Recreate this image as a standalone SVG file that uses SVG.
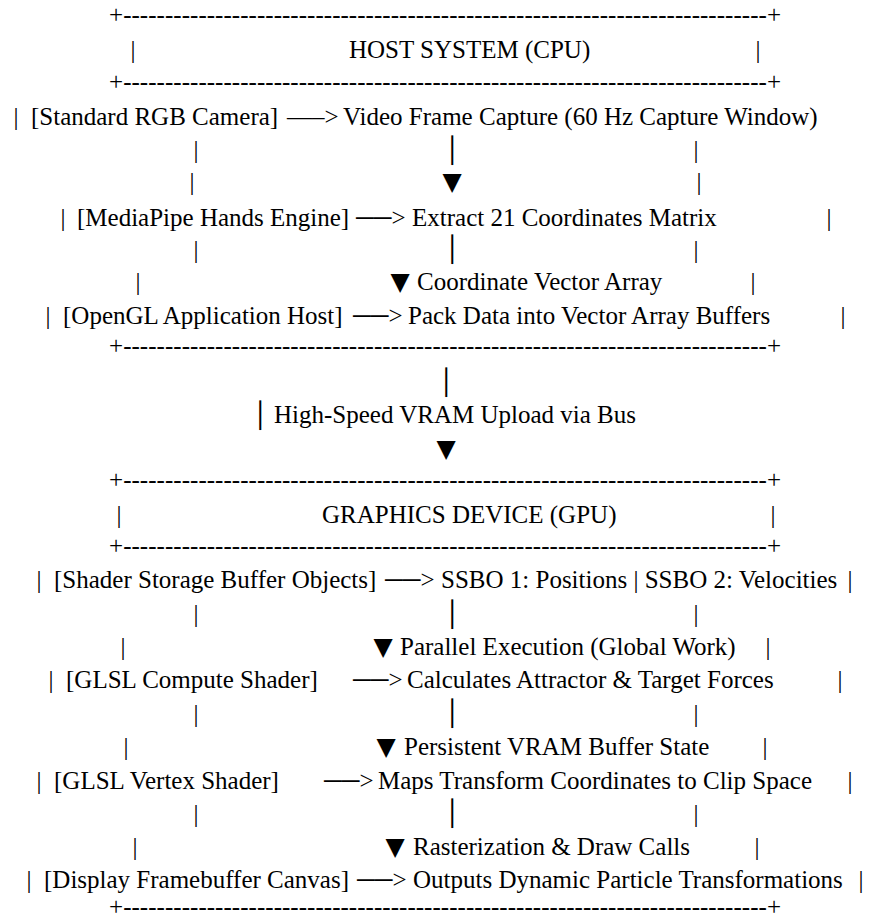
<svg xmlns="http://www.w3.org/2000/svg" width="873" height="920" viewBox="0 0 873 920">
<style>
.t{font-family:"Liberation Serif","Times New Roman","DejaVu Serif",serif;font-size:25px;fill:#000}
.m{text-anchor:middle}
.s{font-family:"DejaVu Sans",sans-serif;font-size:25px;fill:#000}
</style>
<rect width="873" height="920" fill="#fff"/>
<g opacity="0.999">
<g id="host-header">
<text class="t" x="109" y="23" textLength="672">+-----------------------------------------------------------------------------+</text>
<text class="t m" x="133" y="58">|</text>
<text class="t" x="349" y="58">HOST SYSTEM (CPU)</text>
<text class="t m" x="758" y="58">|</text>
<text class="t" x="109" y="90" textLength="672">+-----------------------------------------------------------------------------+</text>
</g>
<g id="camera">
<text class="t m" x="16" y="125">|</text>
<text class="t" x="31" y="125">[Standard RGB Camera]</text>
<text class="t" x="343" y="125">Video Frame Capture (60 Hz Capture Window)</text>
</g>
<g id="rails-1">
<text class="t m" x="196" y="158">|</text><text class="t m" x="696" y="158">|</text>
<text class="t m" x="192" y="190">|</text><text class="t m" x="699" y="190">|</text>
</g>
<g id="mediapipe">
<text class="t m" x="63" y="226">|</text>
<text class="t" x="77" y="226">[MediaPipe Hands Engine]</text>
<text class="t" x="412" y="226">Extract 21 Coordinates Matrix</text>
<text class="t m" x="829" y="226">|</text>
</g>
<g id="rails-2">
<text class="t m" x="196" y="258">|</text><text class="t m" x="696" y="258">|</text>
<text class="t m" x="138" y="290">|</text>
<text class="t" x="417" y="290">Coordinate Vector Array</text>
<text class="t m" x="753" y="290">|</text>
</g>
<g id="opengl">
<text class="t m" x="48" y="324">|</text>
<text class="t" x="63" y="324">[OpenGL Application Host]</text>
<text class="t" x="408" y="324">Pack Data into Vector Array Buffers</text>
<text class="t m" x="843" y="324">|</text>
<text class="t" x="109" y="354" textLength="672">+-----------------------------------------------------------------------------+</text>
</g>
<g id="bus-label">
<text class="t" x="274" y="423">High-Speed VRAM Upload via Bus</text>
</g>
<g id="gpu-header">
<text class="t" x="109" y="488" textLength="672">+-----------------------------------------------------------------------------+</text>
<text class="t m" x="119" y="523">|</text>
<text class="t" x="322" y="523">GRAPHICS DEVICE (GPU)</text>
<text class="t m" x="773" y="523">|</text>
<text class="t" x="109" y="554" textLength="672">+-----------------------------------------------------------------------------+</text>
</g>
<g id="ssbo">
<text class="t m" x="39" y="588">|</text>
<text class="t" x="54" y="588">[Shader Storage Buffer Objects]</text>
<text class="t" x="441" y="588">SSBO 1: Positions | SSBO 2: Velocities</text>
<text class="t m" x="850" y="588">|</text>
</g>
<g id="rails-3">
<text class="t m" x="196" y="622">|</text><text class="t m" x="696" y="622">|</text>
<text class="t m" x="123" y="655">|</text>
<text class="t" x="400" y="655">Parallel Execution (Global Work)</text>
<text class="t m" x="768" y="655">|</text>
</g>
<g id="compute">
<text class="t m" x="51" y="688">|</text>
<text class="t" x="66" y="688">[GLSL Compute Shader]</text>
<text class="t" x="407" y="688">Calculates Attractor &amp; Target Forces</text>
<text class="t m" x="840" y="688">|</text>
</g>
<g id="rails-4">
<text class="t m" x="196" y="722">|</text><text class="t m" x="696" y="722">|</text>
<text class="t m" x="126" y="755">|</text>
<text class="t" x="404" y="755">Persistent VRAM Buffer State</text>
<text class="t m" x="765" y="755">|</text>
</g>
<g id="vertex">
<text class="t m" x="39" y="789">|</text>
<text class="t" x="54" y="789">[GLSL Vertex Shader]</text>
<text class="t" x="378" y="789">Maps Transform Coordinates to Clip Space</text>
<text class="t m" x="850" y="789">|</text>
</g>
<g id="rails-5">
<text class="t m" x="196" y="822">|</text><text class="t m" x="696" y="822">|</text>
<text class="t m" x="135" y="855">|</text>
<text class="t" x="413" y="855">Rasterization &amp; Draw Calls</text>
<text class="t m" x="757" y="855">|</text>
</g>
<g id="display">
<text class="t m" x="29" y="888">|</text>
<text class="t" x="44" y="888">[Display Framebuffer Canvas]</text>
<text class="t" x="413" y="888">Outputs Dynamic Particle Transformations</text>
<text class="t m" x="861" y="888">|</text>
<text class="t" x="109" y="915" textLength="672">+-----------------------------------------------------------------------------+</text>
</g>
<g id="connectors">
<text class="t" x="287" y="125">—–&gt;</text>
<text class="t" x="356" y="226">──&gt;</text>
<text class="t" x="353" y="324">──&gt;</text>
<text class="t" x="385" y="588">──&gt;</text>
<text class="t" x="353" y="688">──&gt;</text>
<text class="t" x="324" y="789">──&gt;</text>
<text class="t" x="357" y="888">──&gt;</text>
<text class="s m" x="452" y="159">│</text>
<text class="s m" x="452" y="190">▼</text>
<text class="s m" x="452" y="258">│</text>
<text class="s m" x="400" y="290">▼</text>
<text class="s m" x="446" y="391">│</text>
<text class="s m" x="260" y="424">│</text>
<text class="s m" x="446" y="457">▼</text>
<text class="s m" x="452" y="623">│</text>
<text class="s m" x="383" y="655">▼</text>
<text class="s m" x="452" y="722">│</text>
<text class="s m" x="386" y="755">▼</text>
<text class="s m" x="452" y="822">│</text>
<text class="s m" x="395" y="855">▼</text>
</g>
</g>
</svg>
